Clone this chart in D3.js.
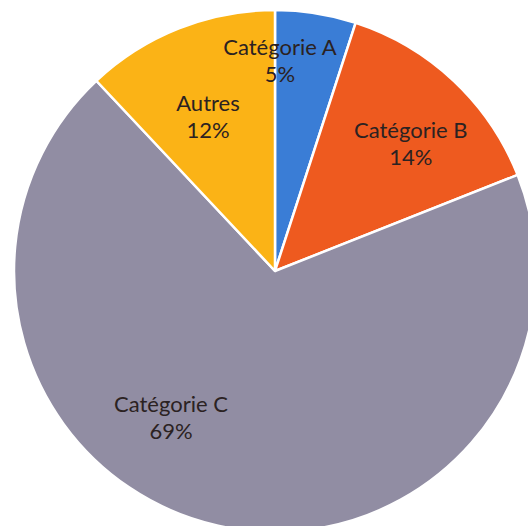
<!DOCTYPE html>
<html>
<head>
<meta charset="utf-8">
<script src="https://cdn.jsdelivr.net/npm/d3@7"></script>
<style>
  html, body { margin: 0; padding: 0; background: #fff; }
  svg { display: block; }
  .lbl { font-family: Lato, "Open Sans", sans-serif; font-size: 22px; fill: #2b2222; }
</style>
</head>
<body>
<div id="chart"></div>
<script>
let categories = ["Catégorie A", "Catégorie B", "Catégorie C", "Autres"];
let values = [5, 14, 69, 12];
let colors = ["#3a7dd6", "#ee5a1f", "#918da3", "#fbb316"];

// label placement: [distance from centre, angle in degrees] - Excel best fit look
let labelPlace = [[203, 1.4], [181, 48.6], [186, 214], [161, 335.4]];

let width = 528;
let height = 526;
let cx = 275;
let cy = 271;
let r = 261;

let svg = d3.select("#chart").append("svg")
    .attr("width", width)
    .attr("height", height);

svg.append("rect")
    .attr("width", width)
    .attr("height", height)
    .attr("fill", "#fff");

let g = svg.append("g")
    .attr("transform", "translate(" + cx + "," + cy + ")");

let pie = d3.pie().sort(null).value(function(d) { return d; });
let arcs = pie(values);

let arc = d3.arc().innerRadius(0).outerRadius(r);

g.selectAll("path.slice")
    .data(arcs)
    .enter().append("path")
    .attr("class", "slice")
    .attr("d", arc)
    .attr("fill", function(d, i) { return colors[i]; })
    .attr("stroke", "#fff")
    .attr("stroke-width", 2.5)
    .attr("stroke-linejoin", "round");

let total = d3.sum(values);

arcs.forEach(function(d, i) {
    let [dist, ang] = labelPlace[i];
    let a = ang * Math.PI / 180;
    let x = Math.sin(a) * dist;
    let y = -Math.cos(a) * dist;
    let t = g.append("text")
        .attr("class", "lbl")
        .attr("text-anchor", "middle")
        .attr("x", x)
        .attr("y", y - 13.5);
    t.append("tspan").attr("x", x).text(categories[i]);
    t.append("tspan").attr("x", x).attr("dy", 27)
        .text(Math.round(values[i] / total * 100) + "%");
});
</script>
</body>
</html>
